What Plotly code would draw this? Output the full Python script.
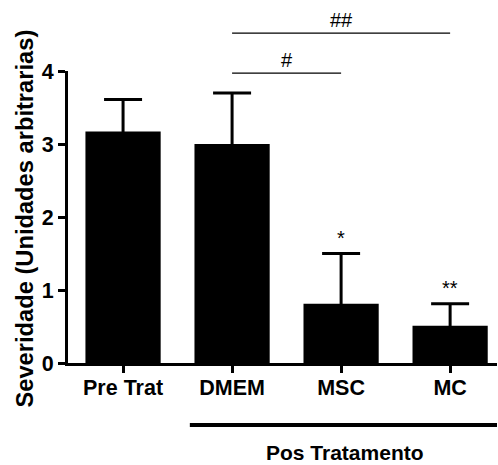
import plotly.graph_objects as go

# Severity scores per group (mean and SEM)
groups = ["Pre Trat", "DMEM", "MSC", "MC"]
means = [3.17, 3.0, 0.81, 0.51]
sem = [0.44, 0.70, 0.69, 0.30]
y_ticks = [0, 1, 2, 3, 4]

# Significance marks versus the treated groups
star_groups = ["MSC", "MC"]
star_labels = ["*", "**"]

FONT = "Liberation Sans, Arial, sans-serif"

fig = go.Figure(
    go.Bar(
        x=groups,
        y=means,
        marker=dict(color="black", line=dict(width=0)),
        # the lower half of each bar falls inside the black column
        error_y=dict(
            type="data",
            array=sem,
            color="black",
            thickness=3,
            width=19,
        ),
    )
)

fig.update_layout(
    width=498,
    height=465,
    margin=dict(l=68, r=1, t=71, b=102),
    paper_bgcolor="white",
    plot_bgcolor="white",
    bargap=0.31,
    showlegend=False,
    font=dict(family=FONT, color="black"),
)

fig.update_xaxes(
    range=[-0.505, 3.43],
    showline=True,
    linecolor="black",
    linewidth=3,
    ticks="outside",
    ticklen=7,
    tickwidth=3,
    tickcolor="black",
    ticklabelstandoff=-4,
    showgrid=False,
    tickfont=dict(family=FONT, size=21.5, color="black", weight="bold"),
)

fig.update_yaxes(
    range=[0, 4],
    tickvals=y_ticks,
    showline=True,
    linecolor="black",
    linewidth=3,
    ticks="outside",
    ticklen=7,
    tickwidth=3,
    tickcolor="black",
    showgrid=False,
    zeroline=False,
    tickfont=dict(family=FONT, size=21.5, color="black", weight="bold"),
)

# Y-axis title
fig.add_annotation(
    text="Severidade (Unidades arbitrarias)",
    xref="paper", yref="paper",
    x=-0.100, y=0.495,
    xanchor="center", yanchor="middle",
    textangle=-90,
    showarrow=False,
    font=dict(family=FONT, size=23.7, color="black", weight="bold"),
)

# Asterisks above the error bars
for g, lab in zip(star_groups, star_labels):
    i = groups.index(g)
    fig.add_annotation(
        text=lab,
        x=g, y=means[i] + sem[i],
        xref="x", yref="y",
        xanchor="center", yanchor="bottom",
        yshift=3,
        showarrow=False,
        font=dict(family=FONT, size=20, color="black"),
    )

# Comparison lines: DMEM vs MSC (#) and DMEM vs MC (##)
brackets = [("DMEM", "MSC", 0.993, "#"), ("DMEM", "MC", 1.130, "##")]
for g0, g1, yp, lab in brackets:
    i0, i1 = groups.index(g0), groups.index(g1)
    fig.add_shape(
        type="line", xref="x", yref="paper",
        x0=i0, x1=i1, y0=yp, y1=yp,
        line=dict(color="black", width=1.2),
    )
    fig.add_annotation(
        text=lab,
        x=(i0 + i1) / 2 + 0.005, y=yp,
        xref="x", yref="paper",
        xanchor="center", yanchor="bottom",
        yshift=0,
        showarrow=False,
        font=dict(family=FONT, size=20, color="black"),
    )

# Group bracket under the post-treatment columns
fig.add_shape(
    type="line", xref="paper", yref="paper",
    x0=0.284, x1=1.0, y0=-0.212, y1=-0.212,
    line=dict(color="black", width=4),
)
fig.add_annotation(
    text="Pos Tratamento",
    xref="paper", yref="paper",
    x=0.646, y=-0.308,
    xanchor="center", yanchor="middle",
    showarrow=False,
    font=dict(family=FONT, size=21, color="black", weight="bold"),
)

fig.write_html("out.html")
